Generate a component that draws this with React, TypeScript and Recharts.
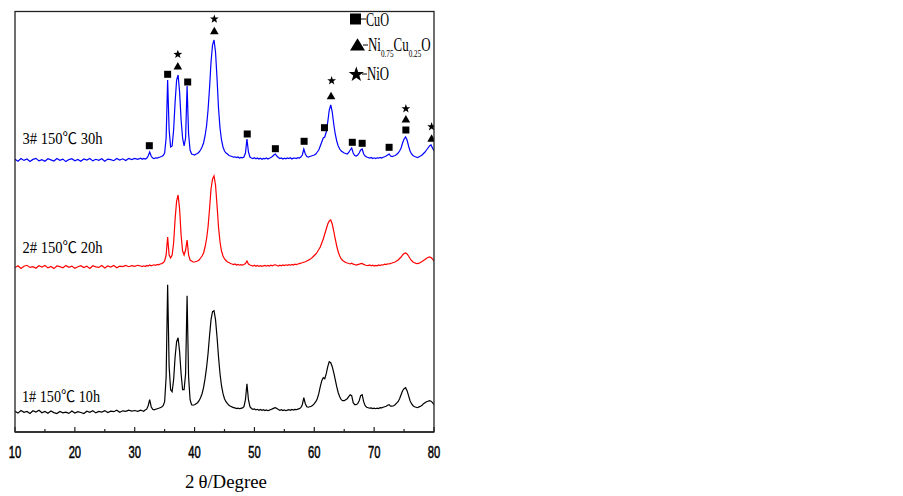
import React from 'react';
import { ComposedChart, Line, Scatter, XAxis, YAxis } from 'recharts';

// 2θ grid (degrees)
const twoTheta = [
  10, 10.5, 11, 11.5, 12, 12.5, 13, 13.5, 14, 14.5,
  15, 15.5, 16, 16.5, 17, 17.5, 18, 18.5, 19, 19.5,
  20, 20.5, 21, 21.5, 22, 22.5, 23, 23.5, 24, 24.5,
  25, 25.5, 26, 26.5, 27, 27.5, 28, 28.5, 29, 29.5,
  30, 30.5, 31,
  31.25, 31.5, 31.75, 32,
  32.25, 32.5, 32.75, 33,
  33.25, 33.5, 33.75, 34,
  34.25, 34.5, 34.75, 35,
  35.25, 35.5, 35.75, 36,
  36.25, 36.5, 36.75, 37,
  37.25, 37.5, 37.75, 38,
  38.25, 38.5, 38.75, 39,
  39.25, 39.5, 39.75, 40,
  40.25, 40.5, 40.75, 41,
  41.25, 41.5, 41.75, 42,
  42.25, 42.5, 42.75, 43,
  43.25, 43.5, 43.75, 44,
  44.25, 44.5, 44.75, 45,
  45.25, 45.5, 45.75, 46,
  46.25, 46.5, 46.75, 47,
  47.25, 47.5, 47.75, 48,
  48.25, 48.5, 48.75, 49,
  49.25, 49.5, 49.75, 50,
  50.25, 50.5, 50.75, 51,
  51.25, 51.5, 51.75, 52,
  52.25, 52.5, 52.75, 53,
  53.25, 53.5, 53.75, 54,
  54.25, 54.5, 54.75, 55,
  55.25, 55.5, 55.75, 56,
  56.25, 56.5, 56.75, 57,
  57.25, 57.5, 57.75, 58,
  58.25, 58.5, 58.75, 59,
  59.25, 59.5, 59.75, 60,
  60.25, 60.5, 60.75, 61,
  61.25, 61.5, 61.75, 62,
  62.25, 62.5, 62.75, 63,
  63.25, 63.5, 63.75, 64,
  64.25, 64.5, 64.75, 65,
  65.25, 65.5, 65.75, 66,
  66.25, 66.5, 66.75, 67,
  67.25, 67.5, 67.75, 68,
  68.25, 68.5, 68.75, 69,
  69.25, 69.5, 69.75, 70,
  70.25, 70.5, 70.75, 71,
  71.25, 71.5, 71.75, 72,
  72.25, 72.5, 72.75, 73,
  73.25, 73.5, 73.75, 74,
  74.25, 74.5, 74.75, 75,
  75.25, 75.5, 75.75, 76,
  76.25, 76.5, 76.75, 77,
  77.25, 77.5, 77.75, 78,
  78.25, 78.5, 78.75, 79,
  79.25, 79.5, 79.75, 80,
];

// 1# 150℃ 10h (black) intensity above its own baseline
const sample1 = [
  0.5, -1.4, 1.2, -0.6, 0.2, -1.8, 0.9, -0.3, 1.4, -1.1,
  0.3, -1.5, 0.8, -0.9, -1.9, 0.2, -1.2, -0.4, -1.7, 0.6,
  -1.4, 0.0, -0.8, -1.8, 0.5, -0.6, 0.9, -1.2, 0.3, -0.3,
  1.1, -0.8, 0.6, 0.0, 1.4, -0.5, 0.9, 0.3, 1.5, 0.6,
  1.2, 0.3, 1.6,
  1.0, 0.4, 1.6, 2.5,
  6, 12, 5, 2.5,
  1.8, 2.4, 3.0, 3.4,
  4, 4.6, 6, 10,
  35, 127, 45, 22,
  20, 32, 55, 70,
  74, 60, 38, 22,
  22, 38, 116, 35,
  12, 7, 6.5, 7,
  8, 9, 11, 14,
  18, 24, 33, 44,
  58, 76, 92, 100,
  101, 92, 75, 55,
  38, 26, 18, 13,
  10, 8, 6.5, 5.5,
  4.8, 4, 3.8, 3.2,
  3.6, 3.0, 3.4, 3.8,
  5, 12, 28, 12,
  5, 3.2, 2.4, 2.8,
  1.8, 2.4, 1.5, 2.2,
  1.4, 2.0, 1.2, 1.8,
  1.0, 1.6, 2.2, 2.8,
  3.6, 4, 3.2, 2.2,
  1.4, 2.0, 1.2, 1.8,
  1.0, 1.6, 2.0, 1.4,
  2.2, 1.6, 2.4, 2.0,
  2.6, 3.0, 4, 7,
  14, 8, 5, 4.5,
  5, 5.5, 6.5, 8,
  10, 13, 18, 25,
  31, 34, 33, 38,
  45, 50, 49, 45,
  39, 32, 25, 19,
  15, 12, 11, 11,
  12, 13, 15, 17,
  16, 9, 7, 7,
  8, 11, 16, 17,
  10, 6, 4.5, 4,
  3.5, 3.8, 3.2, 3.6,
  3.0, 3.6, 3.2, 4,
  3.8, 4.5, 5, 5.5,
  6.5, 7, 5.5, 5.5,
  6, 7, 8.5, 10,
  13, 17, 21, 23,
  24, 21, 16, 11,
  8, 6, 5, 4.5,
  4, 4.8, 5.5, 6.5,
  8, 9, 10, 10.5,
  11, 10.5, 9, 7,
];

// 2# 150℃ 20h (red)
const sample2 = [
  -0.6, 1.3, -1.5, 0.7, 1.7, -0.4, 0.3, -1.3, 1.2, 0.0,
  1.5, -0.9, 0.6, -1.6, 1.0, 0.4, -0.7, 1.6, -0.3, 0.9,
  -1.2, 0.3, 1.3, -0.6, 0.7, -1.5, 1.2, 0.1, -0.4, 1.5,
  -0.9, 1.0, 0.0, 1.6, -0.7, 0.9, 0.4, 1.5, 0.3, 1.3,
  0.6, 1.7, 1.0,
  0.5, 1.2, 0.4, 1.5,
  1.0, 2.0, 1.2, 1.8,
  2.2, 1.6, 2.6, 2.2,
  3.0, 3.4, 4.2, 6,
  12, 30, 12, 9,
  12, 24, 48, 66,
  72, 58, 32, 16,
  12, 17, 27, 12,
  7, 6, 5, 5,
  5.5, 6, 7, 9,
  11, 14, 20, 28,
  40, 58, 78, 88,
  91, 82, 62, 40,
  25, 16, 11, 8,
  6.5, 5, 4.5, 3.5,
  3, 2.5, 3, 2,
  2.6, 1.8, 2.4, 2,
  2.5, 3.5, 6, 3,
  2, 1.5, 1.0, 1.8,
  0.8, 1.5, 0.6, 1.4,
  0.6, 1.2, 1.6, 0.8,
  1.5, 1.0, 1.8, 1.2,
  2.0, 2.2, 1.5, 1.0,
  1.8, 1.2, 2.0, 1.4,
  2.2, 1.6, 2.4, 1.8,
  2.6, 2.0, 2.8, 2.4,
  3.0, 3.4, 3.8, 4.2,
  4.8, 5.2, 6, 6.8,
  7.6, 8.6, 10, 11.5,
  13, 15, 17.5, 20,
  24, 28, 33, 38,
  43, 46, 47, 43,
  36, 28, 21, 15,
  11, 8, 6.5, 5.5,
  4.5, 4, 3.5, 3.2,
  3.8, 2.8, 2.5, 2,
  2.4, 2.8, 3.4, 3.6,
  2.6, 2, 1.6, 1.4,
  2, 1.2, 1.8, 1.0,
  1.6, 1.2, 2.0, 1.5,
  2.2, 2.0, 2.8, 2.5,
  3.2, 3.0, 3.6, 4,
  4.5, 5, 6, 7,
  8.5, 10, 12, 13.5,
  14, 13, 11, 8.5,
  6.5, 5, 4.2, 3.6,
  3.4, 3.8, 4.5, 5.5,
  6.5, 7.5, 8.8, 9.5,
  10, 9.5, 8, 6,
];

// 3# 150℃ 30h (blue)
const sample3 = [
  0.7, -1.2, 1.5, -0.4, 1.0, -1.5, 0.6, 1.6, -0.9, 0.3,
  -1.3, 1.2, 0.1, -1.0, 1.5, -0.3, 0.9, -1.6, 0.4, 1.3,
  -0.7, 0.6, -1.3, 1.0, 0.0, 1.5, -0.9, 0.7, -0.3, 1.3,
  -1.2, 0.9, 0.3, -0.7, 1.6, 0.0, 1.2, -0.6, 1.5, 0.4,
  1.6, 0.6, 1.8,
  0.8, 1.6, 1.0, 1.8,
  4, 8, 4, 2.0,
  1.5, 2.2, 1.8, 2.6,
  3.0, 3.5, 4.5, 7,
  22, 80, 30, 13,
  14, 30, 58, 80,
  85, 68, 40, 22,
  14, 22, 74, 26,
  10, 6, 5.5, 5,
  6, 6.5, 8, 10,
  13, 17, 24, 34,
  50, 72, 98, 115,
  120, 108, 82, 52,
  32, 20, 13, 9,
  7, 6, 4.5, 4,
  3.5, 2.8, 3.2, 2.5,
  3.0, 2.0, 2.6, 2.2,
  3.0, 7, 21, 8,
  3, 2.0, 1.5, 2.2,
  1.2, 2.0, 1.0, 1.8,
  0.8, 1.6, 1.2, 2.0,
  1.0, 1.8, 2.5, 3.5,
  5, 6, 4, 2.5,
  1.5, 2.0, 1.0, 1.8,
  1.2, 2.0, 1.4, 2.2,
  1.0, 1.8, 2.0, 1.5,
  2.4, 2.0, 3.0, 5,
  11, 6, 3.5, 3,
  3.5, 4, 4.5, 5,
  6, 8, 10, 14,
  18, 22, 23, 28,
  38, 50, 55, 48,
  36, 26, 19, 14,
  11, 9, 8, 7,
  6.5, 6, 7.5, 10,
  12, 7, 4.5, 4,
  5, 7, 10, 11,
  6, 4, 3, 2.5,
  2, 2.5, 1.5, 2.2,
  1.5, 2.2, 1.8, 2.5,
  2, 2.8, 3.2, 4,
  5, 6, 4, 3.5,
  4, 4.5, 5.5, 7,
  9, 12, 17, 21,
  23, 20, 14, 9,
  6, 4.5, 3.5, 3,
  2.5, 3.2, 4, 5,
  6.5, 8, 10, 12,
  14, 15, 12, 9,
];

// vertical stacking offsets of the three patterns
const offset1 = 20.3;
const offset2 = 165;
const offset3 = 272;

// phase markers on pattern 3#
const cuoX = [32.44, 35.5, 38.85, 48.8, 53.5, 58.3, 61.7, 66.35, 68.0, 72.5, 75.3];
const cuoH = [14.3, 85.7, 78, 26, 11.3, 18.7, 32.3, 17.7, 16.7, 12.7, 30];
const nicuoX = [37.2, 43.3, 62.8, 75.3, 79.6];
const nicuoH = [94, 129.3, 64.3, 41, 21.7];
const nioX = [37.2, 43.3, 62.9, 75.3, 79.6];
const nioH = [105.7, 141, 79.3, 51.3, 33.3];

const xTicks = [10, 15, 20, 25, 30, 35, 40, 45, 50, 55, 60, 65, 70, 75, 80];

const rows = twoTheta.map((x, i) => ({
  x,
  s1: sample1[i] + offset1,
  s2: sample2[i] + offset2,
  s3: sample3[i] + offset3,
}));
const cuoPts = cuoX.map((x, i) => ({ x, y: cuoH[i] + offset3 }));
const nicuoPts = nicuoX.map((x, i) => ({ x, y: nicuoH[i] + offset3 }));
const nioPts = nioX.map((x, i) => ({ x, y: nioH[i] + offset3 }));

const starPath = (cx: number, cy: number, ro: number, ri: number) => {
  const pts: string[] = [];
  for (let k = 0; k < 10; k++) {
    const r = k % 2 === 0 ? ro : ri;
    const a = -Math.PI / 2 + (k * Math.PI) / 5;
    pts.push(`${(cx + r * Math.cos(a)).toFixed(2)},${(cy + r * Math.sin(a)).toFixed(2)}`);
  }
  return 'M' + pts.join('L') + 'Z';
};

const SquareShape = (p: any) => (
  <rect x={p.cx - 3.5} y={p.cy - 3.5} width={7} height={7} fill="#000" />
);
const TriangleShape = (p: any) => (
  <polygon
    points={`${p.cx},${p.cy - 4} ${p.cx - 4.3},${p.cy + 3.5} ${p.cx + 4.3},${p.cy + 3.5}`}
    fill="#000"
  />
);
const StarShape = (p: any) => <path d={starPath(p.cx, p.cy, 4.6, 1.9)} fill="#000" />;

const AXIS_Y = 432;

const Tick = (props: any) => {
  const { x, payload } = props;
  const v = payload.value;
  const major = v % 10 === 0;
  return (
    <g>
      <line x1={x} x2={x} y1={AXIS_Y} y2={AXIS_Y - (major ? 5 : 3)} stroke="#222" strokeWidth={1.2} />
      {major && (
        <text
          transform={`translate(${x},458) scale(0.7,1)`}
          textAnchor="middle"
          fontSize={16}
          fontFamily="'Liberation Sans', Arial, sans-serif"
          fill="#000"
          stroke="#000"
          strokeWidth={0.5}
        >
          {v}
        </text>
      )}
    </g>
  );
};

const serif = "'Liberation Serif', 'Noto Sans CJK SC', serif";

export default function App() {
  return (
    <div style={{ position: 'absolute', left: 0, top: 0, width: 903, height: 496, background: '#fff' }}>
      <ComposedChart
        width={903}
        height={496}
        data={rows}
        margin={{ top: 12, right: 469, left: 15, bottom: 0 }}
      >
        <XAxis
          dataKey="x"
          type="number"
          domain={[10, 80]}
          ticks={xTicks}
          interval={0}
          tick={<Tick />}
          tickLine={false}
          axisLine={{ stroke: '#222', strokeWidth: 1.3 }}
          height={64}
          allowDataOverflow
        />
        <YAxis hide type="number" domain={[0, 420]} allowDataOverflow width={0} />
        <Line dataKey="s1" type="linear" stroke="#000" strokeWidth={1.2} dot={false} isAnimationActive={false} />
        <Line dataKey="s2" type="linear" stroke="#ff0000" strokeWidth={1.2} dot={false} isAnimationActive={false} />
        <Line dataKey="s3" type="linear" stroke="#0000ff" strokeWidth={1.2} dot={false} isAnimationActive={false} />
        <Scatter data={cuoPts} dataKey="y" shape={SquareShape} isAnimationActive={false} />
        <Scatter data={nicuoPts} dataKey="y" shape={TriangleShape} isAnimationActive={false} />
        <Scatter data={nioPts} dataKey="y" shape={StarShape} isAnimationActive={false} />
      </ComposedChart>
      <svg
        width={903}
        height={496}
        style={{ position: 'absolute', left: 0, top: 0, pointerEvents: 'none' }}
      >
        {/* plot frame */}
        <rect x={15} y={11.5} width={419} height={420.5} fill="none" stroke="#222" strokeWidth={1.3} />

        {/* legend */}
        <rect x={350} y={13.5} width={11} height={11} fill="#000" />
        <line x1={361} x2={366} y1={19} y2={19} stroke="#000" strokeWidth={1} />
        <text x={366} y={25.5} fontSize={18} fontFamily={serif} textLength={23} lengthAdjust="spacingAndGlyphs">CuO</text>

        <polygon points="357.5,38.3 350,50.5 365,50.5" fill="#000" />
        <line x1={363} x2={368} y1={45} y2={45} stroke="#000" strokeWidth={1} />
        <g transform="translate(368,50.5) scale(0.72,1)">
          <text x={0} y={0} fontSize={18} fontFamily={serif}>
            Ni<tspan fontSize={10} dy={6}>0.75</tspan>
            <tspan fontSize={18} dy={-6}>Cu</tspan>
            <tspan fontSize={10} dy={6}>0.25</tspan>
            <tspan fontSize={18} dy={-6}>O</tspan>
          </text>
        </g>

        <path d={starPath(356.3, 74.5, 8, 3.2)} fill="#000" />
        <line x1={362} x2={367} y1={74} y2={74} stroke="#000" strokeWidth={1} />
        <text x={367} y={80} fontSize={18} fontFamily={serif} textLength={22} lengthAdjust="spacingAndGlyphs">NiO</text>

        {/* pattern labels */}
        <text x={22.5} y={143.5} fontSize={16} fontFamily={serif} textLength={80} lengthAdjust="spacingAndGlyphs">3# 150℃ 30h</text>
        <text x={22.5} y={253} fontSize={16} fontFamily={serif} textLength={80} lengthAdjust="spacingAndGlyphs">2# 150℃ 20h</text>
        <text x={22} y={401.5} fontSize={16} fontFamily={serif} textLength={78} lengthAdjust="spacingAndGlyphs">1# 150℃ 10h</text>

        {/* x axis title */}
        <text x={185} y={488} fontSize={19} fontFamily={serif} textLength={82} lengthAdjust="spacingAndGlyphs">
          2<tspan dx={4}>θ</tspan>/Degree
        </text>
      </svg>
    </div>
  );
}
